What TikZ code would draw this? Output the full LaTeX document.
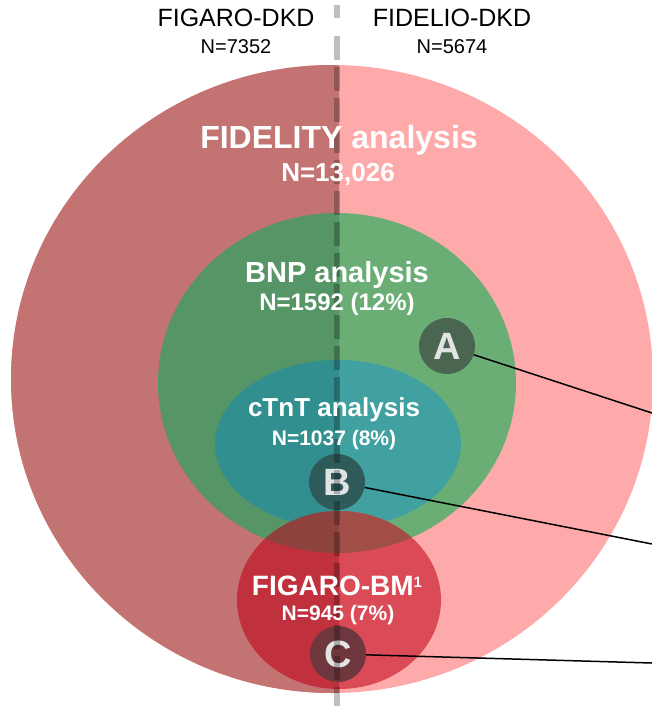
\documentclass[tikz,border=0pt]{standalone}
\usepackage{fontspec}
\setmainfont{Liberation Sans}
\definecolor{pinkR}{HTML}{FFAAAA}
\definecolor{pinkL}{HTML}{C47373}
\definecolor{bnpR}{HTML}{6AAE76}
\definecolor{bnpL}{HTML}{559566}
\definecolor{ctntR}{HTML}{41A1A0}
\definecolor{ctntL}{HTML}{31908F}
\definecolor{bmR}{HTML}{DA4B57}
\definecolor{bmL}{HTML}{C1303D}
\definecolor{mixR}{HTML}{A04E47}
\definecolor{mixL}{HTML}{8E423D}
\definecolor{badgeA}{HTML}{4A6650}
\definecolor{badgeB}{HTML}{2F5A5A}
\definecolor{badgeC}{HTML}{6E373E}
\definecolor{letter}{HTML}{E2E4E4}
\tikzset{
  trial/.style={anchor=base, font=\fontsize{25}{28}\selectfont},
  trialn/.style={anchor=base, font=\fontsize{20}{24}\selectfont},
  title/.style={anchor=base, text=white, font=\bfseries\fontsize{#1}{#1}\selectfont},
  badge/.style={circle, minimum size=56pt, inner sep=0pt, text=letter,
    font=\bfseries\fontsize{38}{38}\selectfont},
  link/.style={line width=1.5pt},
}
\begin{document}
\begin{tikzpicture}[x=1pt,y=-1pt]
  \useasboundingbox (0,0) rectangle (652,706);
  % right halves
  \fill[pinkR] (332,379) ellipse (321 and 314);
  \fill[bnpR] (337,383) ellipse (179 and 170);
  \fill[ctntR] (338,444) ellipse (123 and 84);
  \fill[bmR] (339,600) ellipse (102 and 89);
  \begin{scope}
    \clip (337,383) ellipse (179 and 170);
    \fill[mixR] (339,600) ellipse (102 and 89);
  \end{scope}
  % left halves (FIGARO side)
  \begin{scope}
    \clip (0,0) rectangle (339,706);
    \fill[pinkL] (332,379) ellipse (321 and 314);
    \fill[bnpL] (337,383) ellipse (179 and 170);
    \fill[ctntL] (338,444) ellipse (123 and 84);
    \fill[bmL] (339,600) ellipse (102 and 89);
    \clip (337,383) ellipse (179 and 170);
    \fill[mixL] (339,600) ellipse (102 and 89);
  \end{scope}
  % badges
  \node[badge, fill=badgeA] (badgeA) at (447,346) {A};
  \node[badge, fill=badgeB] (badgeB) at (337,482) {B};
  \node[badge, fill=badgeC] (badgeC) at (338,654) {C};
  % split line
  \draw[line width=6pt, draw=black, draw opacity=0.25] (337,5) -- (337,18);
  \draw[line width=6pt, draw=black, draw opacity=0.25,
    dash pattern=on 24pt off 7pt] (337,36) -- (337,706);
  % connectors
  \coordinate (endA) at (652,413);
  \coordinate (endB) at (652,544);
  \coordinate (endC) at (652,663);
  \draw[link] (badgeA) -- (endA);
  \draw[link] (badgeB) -- (endB);
  \draw[link] (badgeC) -- (endC);
  % labels
  \node[trial] (figaro) at (236,27) {FIGARO-DKD};
  \node[trialn] (figaroN) at (236,54) {N=7352};
  \node[trial] (fidelio) at (452,27) {FIDELIO-DKD};
  \node[trialn] (fidelioN) at (452,54) {N=5674};
  \node[title=32] (fidelity) at (339,148) {FIDELITY analysis};
  \node[title=26] (fidelityN) at (338,181) {N=13,026};
  \node[title=29] (bnp) at (337,282) {BNP analysis};
  \node[title=24] (bnpN) at (337,310) {N=1592 (12\%)};
  \node[title=26] (ctnt) at (334,416) {cTnT analysis};
  \node[title=21] (ctntN) at (334,445) {N=1037 (8\%)};
  \node[title=28] (bm) at (337,595) {FIGARO-BM\raisebox{8pt}{\fontsize{15}{15}\selectfont 1}};
  \node[title=21] (bmN) at (338,620) {N=945 (7\%)};
\end{tikzpicture}
\end{document}
